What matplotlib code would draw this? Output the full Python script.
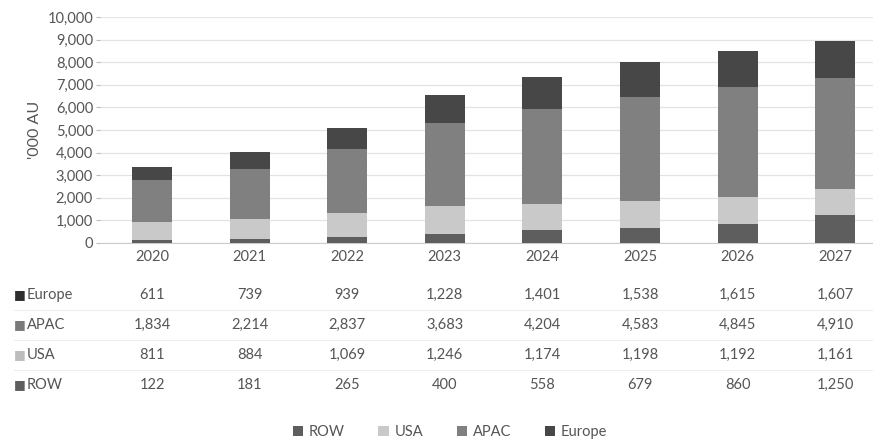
import matplotlib.pyplot as plt
import matplotlib.transforms as mtransforms
from matplotlib.lines import Line2D
import numpy as np

plt.rcParams['font.family'] = ['Lato', 'DejaVu Sans']

years = ['2020', '2021', '2022', '2023', '2024', '2025', '2026', '2027']
row = [122, 181, 265, 400, 558, 679, 860, 1250]
usa = [811, 884, 1069, 1246, 1174, 1198, 1192, 1161]
apac = [1834, 2214, 2837, 3683, 4204, 4583, 4845, 4910]
europe = [611, 739, 939, 1228, 1401, 1538, 1615, 1607]

series = [('ROW', row, '#5e5e5e'), ('USA', usa, '#c9c9c9'),
          ('APAC', apac, '#808080'), ('Europe', europe, '#474747')]

txt = '#555555'
fig = plt.figure(figsize=(8.73, 4.41), dpi=100)
ax = fig.add_axes([100 / 873, 1 - 243 / 441, 773 / 873, 226 / 441])

x = np.arange(len(years))
bottom = np.zeros(len(years))
handles = {}
for name, vals, col in series:
    b = ax.bar(x, vals, 0.41, bottom=bottom, color=col, edgecolor='none', zorder=3)
    handles[name] = b
    bottom += np.array(vals)

ax.set_xlim(-0.533, 7.387)
ax.set_ylim(0, 10000)
ax.set_yticks(np.arange(0, 10001, 1000))
ax.set_yticklabels([f'{v:,}' for v in range(0, 10001, 1000)], color=txt, fontsize=10.5)
ax.set_xticks(x)
ax.set_xticklabels(years, color=txt, fontsize=10.5)
ax.tick_params(axis='y', length=3, color='#bbbbbb', pad=2)
ax.tick_params(axis='x', length=0, pad=5)
ax.grid(axis='y', color='#e3e3e3', linewidth=0.9, zorder=0)
for s in ['top', 'right', 'left']:
    ax.spines[s].set_visible(False)
ax.spines['bottom'].set_color('#cccccc')
ax.set_ylabel("'000 AU", color=txt, fontsize=11.5, labelpad=4)

# data table under the chart
trans = mtransforms.blended_transform_factory(ax.transData, fig.transFigure)
table_rows = [('Europe', europe, '#2e2e2e'), ('APAC', apac, '#7a7a7a'),
              ('USA', usa, '#bdbdbd'), ('ROW', row, '#5e5e5e')]
row_y = [295, 325, 355, 385]
for (name, vals, col), yp in zip(table_rows, row_y):
    yf = 1 - yp / 441
    fig.text(14 / 873, yf, '\u25a0', color=col, fontsize=9, va='center', family='DejaVu Sans')
    fig.text(27 / 873, yf, name, color=txt, fontsize=10.5, va='center')
    for xi, v in zip(x, vals):
        fig.text(xi, yf, f'{v:,}', transform=trans, ha='center', va='center',
                 color=txt, fontsize=10.5)
for yp in [310, 340, 370]:
    fig.add_artist(Line2D([14 / 873, 1], [1 - yp / 441] * 2, color='#eeeeee',
                          linewidth=0.8, transform=fig.transFigure))

fig.legend([handles[n] for n in ['ROW', 'USA', 'APAC', 'Europe']],
           ['ROW', 'USA', 'APAC', 'Europe'], loc='center',
           bbox_to_anchor=(450 / 873, 1 - 432 / 441), ncol=4, frameon=False,
           fontsize=10.5, handlelength=0.7, handleheight=0.7, handletextpad=0.4,
           columnspacing=2.3, labelcolor=txt)

fig.savefig('out.png', dpi=100, facecolor='white')
